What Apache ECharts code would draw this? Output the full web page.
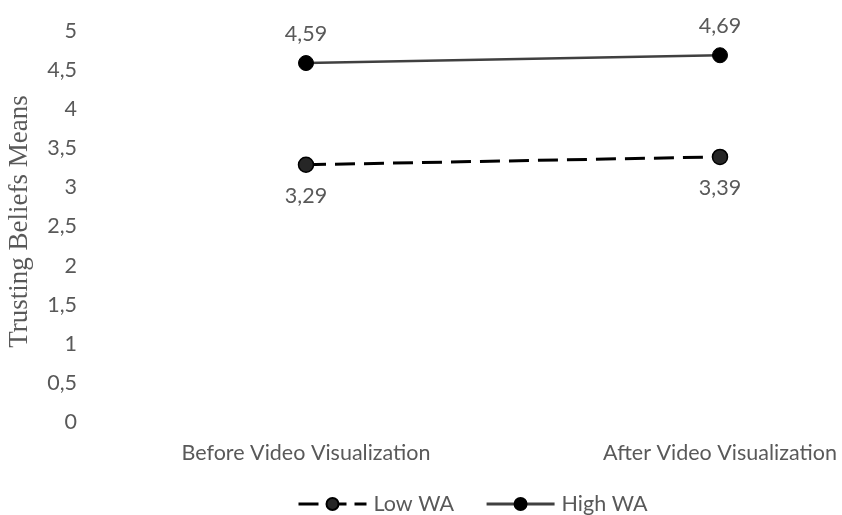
<!DOCTYPE html>
<html>
<head>
<meta charset="utf-8">
<script src="https://cdn.jsdelivr.net/npm/echarts@6/dist/echarts.min.js"></script>
<style>
  html, body { margin: 0; padding: 0; background: #fff; }
  #chart { width: 842px; height: 515px; }
</style>
</head>
<body>
<div id="chart"></div>
<script>
// Categories and mean values per group
const categories = ['Before Video Visualization', 'After Video Visualization'];
const lowWA = [3.29, 3.39];
const highWA = [4.59, 4.69];
const yTicks = [0, 0.5, 1, 1.5, 2, 2.5, 3, 3.5, 4, 4.5, 5];

const fmt = v => String(v).replace('.', ',');
const textColor = '#595959';
const sansFont = 'Lato, "Open Sans", sans-serif';
const fs = 21.5;

const chart = echarts.init(document.getElementById('chart'));
chart.setOption({
  animation: false,
  grid: { left: 99, top: 31, width: 828, height: 391, outerBoundsMode: 'none', containLabel: false },
  legend: {
    bottom: 0,
    left: 297,
    padding: 0,
    itemWidth: 68,
    itemHeight: 15,
    itemGap: 31,
    textStyle: { color: textColor, fontFamily: sansFont, fontSize: fs, padding: [0, 0, 0, 2] },
    data: [
      { name: 'Low WA', lineStyle: { type: [20, 8], width: 3, color: '#000' } },
      { name: 'High WA', lineStyle: { width: 3, color: '#404040' } }
    ]
  },
  xAxis: {
    type: 'category',
    data: categories,
    boundaryGap: true,
    axisLine: { show: false },
    axisTick: { show: false },
    axisLabel: { color: textColor, fontFamily: sansFont, fontSize: fs, margin: 20 }
  },
  yAxis: {
    type: 'value',
    min: yTicks[0],
    max: yTicks[yTicks.length - 1],
    interval: 0.5,
    name: 'Trusting Beliefs Means',
    nameLocation: 'middle',
    nameGap: 66,
    nameTextStyle: {
      color: textColor,
      fontFamily: '"Liberation Serif", "Times New Roman", serif',
      fontSize: 27,
      padding: [0, 0, 0, 10]
    },
    axisLine: { show: false },
    axisTick: { show: false },
    splitLine: { show: false },
    axisLabel: { color: textColor, fontFamily: sansFont, fontSize: fs, margin: 22, formatter: fmt }
  },
  series: [
    {
      name: 'Low WA',
      type: 'line',
      data: lowWA,
      symbol: 'circle',
      symbolSize: 15,
      lineStyle: { color: '#000', width: 3, type: [20, 9] },
      itemStyle: { color: '#262626', borderColor: '#000', borderWidth: 1.5 },
      label: { show: true, position: 'bottom', distance: 12, color: textColor, fontFamily: sansFont, fontSize: fs, formatter: p => fmt(p.value) }
    },
    {
      name: 'High WA',
      type: 'line',
      data: highWA,
      symbol: 'circle',
      symbolSize: 15,
      lineStyle: { color: '#404040', width: 2.5 },
      itemStyle: { color: '#000', borderColor: '#000', borderWidth: 1 },
      label: { show: true, position: 'top', distance: 10, color: textColor, fontFamily: sansFont, fontSize: fs, formatter: p => fmt(p.value) }
    }
  ]
});
</script>
</body>
</html>
